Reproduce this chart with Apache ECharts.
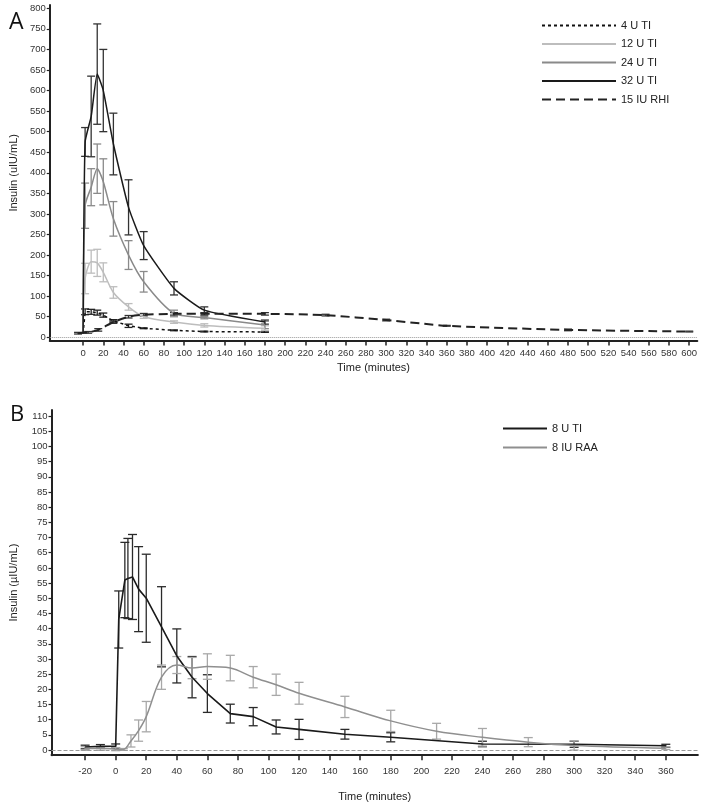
<!DOCTYPE html>
<html>
<head>
<meta charset="utf-8">
<script src="https://cdn.jsdelivr.net/npm/echarts@6/dist/echarts.min.js"></script>
<style>
html,body{margin:0;padding:0;background:#fff;}
#chart{width:701px;height:805px;}
</style>
</head>
<body>
<div id="chart"></div>
<script>
// ---------- Panel A data ----------
const timesA = [0, 2, 8, 14, 20, 30, 45, 60, 90, 120, 180];
const ti4 = [8, 62, 62, 60, 54, 40, 28, 22, 17, 14, 13];
const ti4Err = [0, 7, 6, 6, 5, 3, 4, 1, 1, 1, 1];
const ti12 = [10, 143, 184, 181, 158, 109, 74, 50, 37, 29, 22];
const ti12Err = [0, 37, 28, 33, 23, 14, 8, 4, 3, 4, 6];
const ti24 = [10, 320, 365, 410, 378, 288, 200, 135, 58, 48, 30];
const ti24Err = [0, 55, 45, 60, 56, 42, 35, 25, 8, 3, 9];
const ti32 = [10, 475, 537, 640, 600, 470, 316, 223, 119, 66, 37];
const ti32Err = [0, 35, 98, 122, 100, 75, 67, 34, 16, 8, 5];
const timesRHI = [-5, 5, 15, 30, 45, 60, 90, 120, 180, 240, 300, 360, 480, 600];
const rhi15 = [10, 12, 18, 37, 50, 55, 57, 57, 57, 54, 42, 28, 18, 14];
const rhi15Err = [2, 2, 3, 3, 3, 3, 3, 3, 3, 2, 2, 1, 2, 1];
const xTicksA = [0,20,40,60,80,100,120,140,160,180,200,220,240,260,280,300,320,340,360,380,400,420,440,460,480,500,520,540,560,580,600];
const yTicksA = [0,50,100,150,200,250,300,350,400,450,500,550,600,650,700,750,800];

// ---------- Panel B data ----------
const timesTI8 = [-20, -10, 0, 2, 6, 8, 11, 15, 20, 30, 40, 50, 60, 75, 90, 105, 120, 150, 180, 240, 300, 360];
const ti8 = [1.0, 1.2, 1.3, 43, 56, 56.5, 57, 53, 50, 40.6, 31, 24, 18.6, 12, 11, 7.6, 6.8, 5.2, 4.2, 2, 1.9, 1.4];
const ti8Err = [0.6, 0.6, 0.7, 9.4, 12.4, 13.2, 14, 14, 14.5, 13.2, 8.9, 6.8, 6.2, 3.1, 3, 2.3, 3.3, 1.6, 1.5, 0.9, 1.0, 0.5];
const timesRAA = [-20, -10, 0, 5, 10, 15, 20, 30, 40, 50, 60, 75, 90, 105, 120, 150, 180, 210, 240, 270, 300, 360];
const raa8 = [0.5, 0.5, 0.3, 0.2, 3, 6.4, 11, 24, 28, 27, 27.5, 27, 24, 21.5, 18.7, 14.2, 9.6, 6.2, 4.2, 2.6, 1.5, 0.6];
const raa8Err = [0.6, 0.6, 0.5, 0.3, 2, 3.5, 5, 4, 2.8, 3.5, 4.2, 4.2, 3.5, 3.5, 3.6, 3.5, 3.5, 2.6, 2.9, 1.5, 1.5, 0.4];
const xTicksB = [-20,0,20,40,60,80,100,120,140,160,180,200,220,240,260,280,300,320,340,360];
const yTicksB = [0,5,10,15,20,25,30,35,40,45,50,55,60,65,70,75,80,85,90,95,100,105,110];

const FONT = 'Liberation Sans, Arial, sans-serif';

function pairs(ts, vs){ return ts.map((t,i)=>[t, vs[i]]); }
function errs(ts, vs, es){
  const out = [];
  ts.forEach((t,i)=>{ if (es[i] > 0) out.push([t, vs[i]-es[i], vs[i]+es[i]]); });
  return out;
}
function errRender(color, capW, lw){
  return function(params, api){
    const x = api.value(0), lo = api.value(1), hi = api.value(2);
    const p1 = api.coord([x, lo]), p2 = api.coord([x, hi]);
    const st = {stroke: color, lineWidth: lw, fill: null};
    return {type:'group', children:[
      {type:'line', shape:{x1:p1[0], y1:p1[1], x2:p2[0], y2:p2[1]}, style: st},
      {type:'line', shape:{x1:p1[0]-capW, y1:p1[1], x2:p1[0]+capW, y2:p1[1]}, style: st},
      {type:'line', shape:{x1:p2[0]-capW, y1:p2[1], x2:p2[0]+capW, y2:p2[1]}, style: st}
    ]};
  };
}
function errSeries(name, gi, data, color, capW, lw){
  return {type:'custom', name: name, xAxisIndex: gi, yAxisIndex: gi, data: data,
    renderItem: errRender(color, capW, lw), encode:{x:0, y:[1,2]}, silent:true, z:2};
}
function lineSeries(name, gi, data, color, width, type, smooth){
  return {type:'line', name: name, xAxisIndex: gi, yAxisIndex: gi, data: data,
    symbol:'none', smooth: smooth || false, z:3, silent:true,
    lineStyle:{color: color, width: width, type: type},
    itemStyle:{color: color}};
}

function xAxisCfg(gi, min, max, ticks, gap, margin){
  return {type:'value', gridIndex: gi, min: min, max: max,
    name:'Time (minutes)', nameLocation:'middle', nameGap: gap,
    nameTextStyle:{fontSize:11, color:'#222', fontFamily: FONT},
    axisLine:{show:true, onZero:false, lineStyle:{color:'#222', width:2}},
    axisTick:{show:true, length:5, inside:false, customValues: ticks, lineStyle:{color:'#222', width:1.5}},
    axisLabel:{customValues: ticks, fontSize:9.5, color:'#333', margin: margin, fontFamily: FONT},
    splitLine:{show:false}};
}
function yAxisCfg(gi, min, max, ticks, name, gap){
  return {type:'value', gridIndex: gi, min: min, max: max,
    name: name, nameLocation:'middle', nameGap: gap,
    nameTextStyle:{fontSize:11, color:'#222', fontFamily: FONT},
    axisLine:{show:true, onZero:false, lineStyle:{color:'#222', width:2}},
    axisTick:{show:true, length:3, customValues: ticks, lineStyle:{color:'#222', width:1.2}},
    axisLabel:{customValues: ticks, fontSize:9.5, color:'#333', margin:4, fontFamily: FONT},
    splitLine:{show:false}};
}

const zeroLine = (type) => ({silent:true, symbol:'none', label:{show:false},
  lineStyle:{color:'#999', width:1, type: type}, data:[{yAxis:0}], animation:false});

const s4 = lineSeries('4 U TI', 0, pairs(timesA, ti4), '#111', 1.5, [3,3]);
s4.markLine = zeroLine('dotted');

const option = {
  animation: false,
  backgroundColor: '#fff',
  title: [
    {text:'A', left:4, top:6, textStyle:{fontSize:23, fontWeight:'normal', color:'#111', fontFamily:'Open Sans, sans-serif'}},
    {text:'B', left:5, top:399, textStyle:{fontSize:22, fontWeight:'normal', color:'#111', fontFamily:'Open Sans, sans-serif'}}
  ],
  legend: [
    {data:['4 U TI','12 U TI','24 U TI','32 U TI','15 IU RHI'], orient:'vertical', left:536, top:15,
     itemWidth:74, itemHeight:10, itemGap:7.5, selectedMode:false,
     itemStyle:{opacity:0}, textStyle:{fontSize:11, color:'#222', fontFamily: FONT}},
    {data:['8 U TI','8 IU RAA'], orient:'vertical', left:497, top:418,
     itemWidth:44, itemHeight:10, itemGap:8, selectedMode:false,
     itemStyle:{opacity:0}, textStyle:{fontSize:11, color:'#222', fontFamily: FONT}}
  ],
  grid: [
    {left:49.3, top:5, width:648, height:335.6},
    {left:51.5, top:410, width:646.4, height:345.2}
  ],
  xAxis: [
    xAxisCfg(0, -33, 608, xTicksA, 22, 8),
    xAxisCfg(1, -42, 381, xTicksB, 36, 11)
  ],
  yAxis: [
    yAxisCfg(0, -8, 808, yTicksA, 'Insulin (uIU/mL)', 28),
    yAxisCfg(1, -1.7, 112, yTicksB, 'Insulin (\u00b5IU/mL)', 32)
  ],
  series: [
    errSeries('e4', 0, errs(timesA, ti4, ti4Err), '#222', 4, 1.3),
    errSeries('e12', 0, errs(timesA, ti12, ti12Err), '#bdbdbd', 4, 1.3),
    errSeries('e24', 0, errs(timesA, ti24, ti24Err), '#8a8a8a', 4, 1.3),
    errSeries('e32', 0, errs(timesA, ti32, ti32Err), '#333', 4, 1.3),
    errSeries('eRHI', 0, errs(timesRHI, rhi15, rhi15Err), '#333', 4, 1.3),
    s4,
    lineSeries('12 U TI', 0, pairs(timesA, ti12), '#bdbdbd', 1.5, 'solid', 0.25),
    lineSeries('24 U TI', 0, pairs(timesA, ti24), '#8a8a8a', 1.5, 'solid', 0.25),
    lineSeries('32 U TI', 0, pairs(timesA, ti32), '#1a1a1a', 1.5, 'solid', 0.15),
    lineSeries('15 IU RHI', 0, pairs(timesRHI, rhi15), '#222', 2, [9,5], 0.2),
    errSeries('eTI8', 1, errs(timesTI8, ti8, ti8Err), '#2a2a2a', 4.5, 1.3),
    errSeries('eRAA8', 1, errs(timesRAA, raa8, raa8Err), '#a8a8a8', 4.5, 1.3),
    Object.assign(lineSeries('8 U TI', 1, pairs(timesTI8, ti8), '#1a1a1a', 1.6, 'solid', false),
      {markLine: zeroLine('dashed')}),
    lineSeries('8 IU RAA', 1, pairs(timesRAA, raa8), '#8f8f8f', 1.5, 'solid', 0.35)
  ]
};

const chart = echarts.init(document.getElementById('chart'), null, {renderer:'canvas'});
chart.setOption(option);
</script>
</body>
</html>
